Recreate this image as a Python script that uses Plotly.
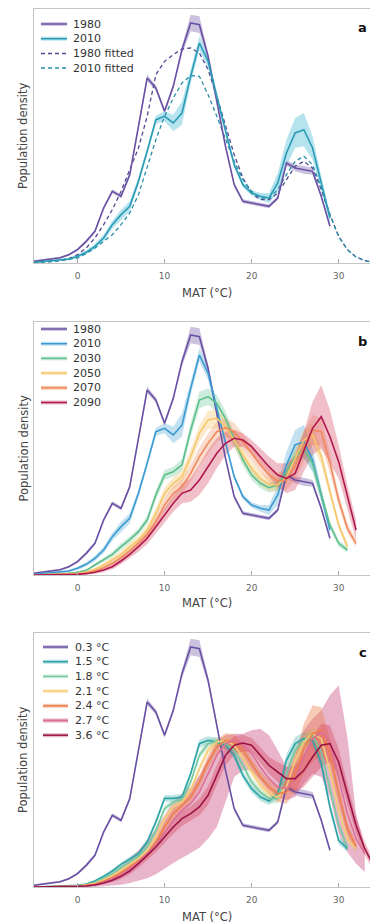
import plotly.graph_objects as go

# ---------------- data ----------------
MAT = list(range(-5, 35))          # mean annual temperature grid (°C)
XTICKS = [0, 10, 20, 30]

# panel a / shared historical curves (population density, % per °C)
pop_1980 = [0.05, 0.08, 0.12, 0.16, 0.25, 0.40, 0.65, 0.95, 1.65, 2.15, 2.00, 2.65, 4.10, 5.55, 5.25,
            4.55, 5.30, 6.40, 7.20, 7.15, 6.20, 4.85, 3.50, 2.35, 1.85, 1.80, 1.75, 1.70, 1.95, 3.00,
            2.85, 2.80, 2.75, 2.00, 1.10]
band_1980 = [0.03, 0.03, 0.03, 0.03, 0.03, 0.04, 0.05, 0.05, 0.06, 0.06, 0.06, 0.06, 0.08, 0.10, 0.08,
             0.08, 0.08, 0.12, 0.25, 0.25, 0.12, 0.08, 0.06, 0.06, 0.06, 0.06, 0.06, 0.06, 0.06, 0.08,
             0.10, 0.12, 0.10, 0.06, 0.05]
pop_2010 = [0.02, 0.04, 0.06, 0.08, 0.12, 0.20, 0.32, 0.50, 0.75, 1.15, 1.45, 1.70, 2.45, 3.35, 4.30,
            4.40, 4.20, 4.50, 5.60, 6.60, 6.05, 5.00, 3.95, 2.95, 2.35, 2.10, 2.00, 1.95, 2.40, 3.30,
            3.90, 4.00, 3.45, 2.40, 1.35]
band_2010 = [0.02, 0.02, 0.03, 0.03, 0.04, 0.05, 0.06, 0.08, 0.10, 0.12, 0.15, 0.15, 0.12, 0.10, 0.12,
             0.15, 0.25, 0.35, 0.20, 0.20, 0.20, 0.12, 0.10, 0.08, 0.08, 0.08, 0.10, 0.15, 0.30, 0.40,
             0.45, 0.50, 0.35, 0.20, 0.15]
fit_1980 = [0.02, 0.03, 0.05, 0.08, 0.13, 0.25, 0.45, 0.75, 1.15, 1.60, 2.15, 2.80, 3.45, 4.40, 5.65,
            6.05, 6.25, 6.42, 6.45, 6.30, 5.80, 5.00, 4.10, 3.25, 2.55, 2.10, 1.90, 1.90, 2.10, 2.50,
            2.90, 3.05, 2.85, 2.20, 1.45, 0.80, 0.40, 0.18, 0.07, 0.02]
fit_2010 = [0.01, 0.02, 0.04, 0.07, 0.10, 0.15, 0.28, 0.45, 0.65, 0.85, 1.15, 1.50, 2.05, 2.85, 3.70,
            4.40, 4.95, 5.40, 5.62, 5.60, 5.05, 4.40, 3.70, 3.05, 2.50, 2.15, 1.95, 1.95, 2.20, 2.65,
            3.05, 3.20, 2.95, 2.25, 1.45, 0.80, 0.40, 0.18, 0.07, 0.02]

# panel b: future years
pop_2030 = [0.00, 0.01, 0.02, 0.03, 0.05, 0.08, 0.14, 0.30, 0.45, 0.62, 0.85, 1.06, 1.30, 1.65, 2.40,
            3.00, 3.10, 3.30, 4.35, 5.25, 5.35, 5.15, 4.70, 4.05, 3.45, 3.00, 2.75, 2.62, 2.70, 3.10,
            3.55, 3.78, 3.35, 2.40, 1.50, 0.95, 0.75]
band_2030 = [0.01, 0.01, 0.01, 0.01, 0.01, 0.02, 0.03, 0.05, 0.06, 0.08, 0.10, 0.10, 0.10, 0.12, 0.15,
             0.15, 0.15, 0.18, 0.20, 0.25, 0.25, 0.25, 0.22, 0.20, 0.18, 0.15, 0.15, 0.15, 0.15, 0.18,
             0.22, 0.25, 0.22, 0.18, 0.12, 0.10, 0.08]
pop_2050 = [0.00, 0.01, 0.01, 0.02, 0.03, 0.05, 0.09, 0.17, 0.30, 0.45, 0.62, 0.85, 1.05, 1.35, 1.85,
            2.45, 2.75, 2.95, 3.55, 4.25, 4.65, 4.70, 4.45, 4.05, 3.60, 3.20, 2.90, 2.72, 2.70, 2.95,
            3.50, 4.05, 4.20, 3.55, 2.50, 1.50, 0.85]
band_2050 = [0.01, 0.01, 0.01, 0.01, 0.01, 0.02, 0.03, 0.04, 0.06, 0.08, 0.10, 0.12, 0.12, 0.14, 0.16,
             0.18, 0.18, 0.20, 0.22, 0.25, 0.28, 0.28, 0.26, 0.24, 0.22, 0.20, 0.20, 0.20, 0.20, 0.22,
             0.28, 0.32, 0.32, 0.25, 0.18, 0.12, 0.10]
pop_2070 = [0.00, 0.00, 0.01, 0.01, 0.02, 0.03, 0.06, 0.12, 0.22, 0.35, 0.52, 0.72, 0.95, 1.20, 1.60,
            2.10, 2.45, 2.65, 3.05, 3.55, 3.95, 4.30, 4.42, 4.30, 4.00, 3.65, 3.30, 3.00, 2.82, 2.85,
            3.25, 3.85, 4.35, 4.30, 3.35, 2.25, 1.40, 0.95]
band_2070 = [0.01, 0.01, 0.01, 0.01, 0.01, 0.02, 0.03, 0.04, 0.06, 0.08, 0.10, 0.12, 0.14, 0.16, 0.18,
             0.20, 0.22, 0.24, 0.26, 0.28, 0.30, 0.30, 0.28, 0.26, 0.24, 0.22, 0.22, 0.22, 0.25, 0.30,
             0.40, 0.45, 0.45, 0.40, 0.30, 0.20, 0.15, 0.12]
pop_2090 = [0.00, 0.00, 0.00, 0.01, 0.01, 0.02, 0.04, 0.08, 0.15, 0.25, 0.42, 0.62, 0.85, 1.10, 1.45,
            1.80, 2.15, 2.45, 2.55, 2.85, 3.25, 3.65, 3.95, 4.10, 4.05, 3.85, 3.55, 3.25, 3.00, 2.90,
            3.05, 3.70, 4.40, 4.75, 4.15, 3.40, 2.35, 1.35]
band_2090 = [0.01, 0.01, 0.01, 0.01, 0.01, 0.02, 0.03, 0.04, 0.06, 0.08, 0.10, 0.12, 0.15, 0.18, 0.20,
             0.22, 0.25, 0.30, 0.35, 0.45, 0.50, 0.45, 0.35, 0.25, 0.20, 0.20, 0.25, 0.30, 0.35, 0.45,
             0.50, 0.60, 0.80, 0.95, 0.80, 0.50, 0.35, 0.30]

# panel c: warming levels
pop_15 = [0.00, 0.01, 0.01, 0.02, 0.03, 0.05, 0.09, 0.18, 0.32, 0.48, 0.68, 0.85, 1.00, 1.35, 1.95,
          2.66, 2.66, 2.70, 3.40, 4.30, 4.40, 4.35, 4.25, 3.95, 3.35, 2.95, 2.70, 2.58, 2.80, 3.80,
          4.30, 4.45, 4.40, 3.70, 2.40, 1.40, 1.15]
pop_18 = [0.00, 0.00, 0.01, 0.02, 0.02, 0.04, 0.07, 0.14, 0.26, 0.40, 0.58, 0.76, 0.92, 1.20, 1.70,
          2.35, 2.55, 2.62, 3.15, 3.95, 4.30, 4.38, 4.30, 4.10, 3.65, 3.15, 2.85, 2.65, 2.65, 3.40,
          4.10, 4.40, 4.55, 4.05, 2.95, 1.85, 1.20]
pop_21 = [0.00, 0.00, 0.01, 0.01, 0.02, 0.03, 0.06, 0.11, 0.21, 0.34, 0.50, 0.68, 0.85, 1.08, 1.50,
          2.05, 2.40, 2.55, 2.90, 3.55, 4.10, 4.35, 4.40, 4.25, 3.90, 3.45, 3.05, 2.80, 2.70, 3.00,
          3.80, 4.35, 4.60, 4.45, 3.50, 2.30, 1.45, 1.15]
band_small = [0.01, 0.01, 0.01, 0.01, 0.01, 0.01, 0.02, 0.03, 0.04, 0.05, 0.06, 0.07, 0.08, 0.08, 0.10,
              0.10, 0.10, 0.10, 0.10, 0.12, 0.12, 0.12, 0.12, 0.12, 0.12, 0.12, 0.12, 0.12, 0.15, 0.18,
              0.20, 0.20, 0.20, 0.18, 0.15, 0.12, 0.10, 0.10]
pop_24 = [0.00, 0.00, 0.00, 0.01, 0.01, 0.02, 0.05, 0.09, 0.17, 0.28, 0.43, 0.60, 0.78, 0.98, 1.32,
          1.80, 2.20, 2.45, 2.70, 3.15, 3.75, 4.20, 4.40, 4.35, 4.10, 3.70, 3.30, 3.00, 2.80, 2.85,
          3.40, 4.15, 4.60, 4.70, 4.00, 2.80, 1.75, 1.20]
band_24 = [0.01, 0.01, 0.01, 0.01, 0.01, 0.01, 0.02, 0.03, 0.04, 0.05, 0.06, 0.08, 0.10, 0.12, 0.14,
           0.15, 0.16, 0.16, 0.16, 0.18, 0.20, 0.22, 0.22, 0.22, 0.20, 0.18, 0.18, 0.20, 0.25, 0.35,
           0.55, 0.75, 0.85, 0.70, 0.45, 0.30, 0.20, 0.15]
pop_27 = [0.00, 0.00, 0.00, 0.01, 0.01, 0.02, 0.04, 0.07, 0.14, 0.24, 0.37, 0.54, 0.74, 0.98, 1.25,
          1.62, 2.00, 2.30, 2.50, 2.85, 3.40, 3.95, 4.30, 4.40, 4.30, 4.00, 3.60, 3.25, 3.00, 2.95,
          3.20, 3.90, 4.45, 4.65, 4.35, 3.30, 2.20, 1.45, 1.00]
lo_27 = [0.00, 0.00, 0.00, 0.00, 0.00, 0.00, 0.00, 0.01, 0.02, 0.04, 0.07, 0.12, 0.18, 0.26, 0.38,
         0.55, 0.72, 0.88, 1.02, 1.18, 1.45, 1.80, 2.55, 3.30, 3.50, 3.50, 3.20, 2.90, 2.70, 2.60,
         2.70, 3.10, 3.40, 3.30, 2.70, 1.60, 1.05, 0.70, 0.45]
hi_27 = [0.00, 0.00, 0.00, 0.01, 0.02, 0.04, 0.08, 0.14, 0.26, 0.42, 0.62, 0.85, 1.10, 1.40, 1.75,
         2.15, 2.55, 2.80, 3.00, 3.35, 3.85, 4.35, 4.55, 4.60, 4.60, 4.70, 4.75, 4.55, 4.10, 3.60,
         4.10, 4.70, 5.05, 5.30, 5.75, 6.05, 4.50, 2.20, 1.20]
pop_36 = [0.00, 0.00, 0.00, 0.01, 0.01, 0.02, 0.03, 0.06, 0.12, 0.20, 0.32, 0.48, 0.70, 0.95, 1.20,
          1.50, 1.80, 2.05, 2.20, 2.40, 2.75, 3.35, 3.95, 4.25, 4.32, 4.25, 3.95, 3.65, 3.45, 3.25,
          3.25, 3.50, 3.90, 4.25, 4.30, 3.75, 2.80, 1.85, 1.15, 0.65]
band_36 = [0.01, 0.01, 0.01, 0.01, 0.01, 0.01, 0.02, 0.03, 0.04, 0.06, 0.08, 0.10, 0.12, 0.14, 0.16,
           0.18, 0.20, 0.22, 0.22, 0.25, 0.28, 0.30, 0.30, 0.28, 0.25, 0.22, 0.22, 0.25, 0.30, 0.35,
           0.40, 0.50, 0.60, 0.65, 0.55, 0.40, 0.30, 0.25, 0.20, 0.15]

LEG_A = ["1980", "2010", "1980 fitted", "2010 fitted"]
LEG_B = ["1980", "2010", "2030", "2050", "2070", "2090"]
LEG_C = ["0.3 °C", "1.5 °C", "1.8 °C", "2.1 °C", "2.4 °C", "2.7 °C", "3.6 °C"]

# ---------------- styling ----------------
FONT = "DejaVu Sans, Verdana, sans-serif"
W, H = 370, 924
C1980 = "#6a51a3"
C2010A, B2010A = "#2a9bb4", "rgba(120,205,225,0.55)"
C2010B = "#3a9bd2"
C2030, C2050, C2070, C2090 = "#5dbf8c", "#f5c76a", "#f08a5d", "#b0184f"
C15, C18, C21, C24, C27, C36 = "#2ba4a6", "#76c9a0", "#f4cd76", "#ee7d4b", "#dd6f97", "#9a1446"


def px(x):
    return x / W


def py(y):
    return 1 - y / H


def rgba(h, a):
    h = h.lstrip("#")
    r, g, b = int(h[0:2], 16), int(h[2:4], 16), int(h[4:6], 16)
    return f"rgba({r},{g},{b},{a})"


fig = go.Figure()


def add_band(ax, y, color, band=None, lo=None, hi=None):
    x = MAT[:len(y)]
    if band is not None:
        lo = [max(0, v - b) for v, b in zip(y, band)]
        hi = [v + b for v, b in zip(y, band)]
    fig.add_trace(go.Scatter(x=x + x[::-1], y=hi + lo[::-1], fill="toself", fillcolor=color,
                             line=dict(width=0), mode="lines", hoverinfo="skip", showlegend=False,
                             xaxis="x" + ax, yaxis="y" + ax))


def add_line(ax, y, color, width=1.6, dash=None):
    x = MAT[:len(y)]
    fig.add_trace(go.Scatter(x=x, y=y, mode="lines", line=dict(color=color, width=width, dash=dash),
                             showlegend=False, xaxis="x" + ax, yaxis="y" + ax))


# panel a
add_band("", pop_1980, rgba(C1980, 0.35), band=band_1980)
add_band("", pop_2010, B2010A, band=band_2010)
add_line("", fit_1980, "#4f4a94", 1.3, "4px,3px")
add_line("", fit_2010, "#2a8fa8", 1.3, "4px,3px")
add_line("", pop_1980, C1980)
add_line("", pop_2010, C2010A)

# panel b
add_band("2", pop_1980, rgba(C1980, 0.35), band=band_1980)
add_band("2", pop_2010, rgba(C2010B, 0.3), band=band_2010)
add_band("2", pop_2030, rgba(C2030, 0.3), band=band_2030)
add_band("2", pop_2050, rgba(C2050, 0.35), band=band_2050)
add_band("2", pop_2070, rgba(C2070, 0.3), band=band_2070)
add_band("2", pop_2090, rgba("#d8485f", 0.35), band=band_2090)
for yv, c in [(pop_1980, C1980), (pop_2010, C2010B), (pop_2030, C2030), (pop_2050, C2050),
              (pop_2070, C2070), (pop_2090, C2090)]:
    add_line("2", yv, c)

# panel c
add_band("3", pop_1980, rgba(C1980, 0.35), band=band_1980)
add_band("3", pop_27, "rgba(205,90,140,0.45)", lo=lo_27, hi=hi_27)
add_band("3", pop_15, rgba(C15, 0.3), band=band_small)
add_band("3", pop_18, rgba(C18, 0.3), band=band_small)
add_band("3", pop_21, rgba(C21, 0.35), band=band_small)
add_band("3", pop_24, rgba(C24, 0.4), band=band_24)
add_band("3", pop_36, rgba("#d63a55", 0.35), band=band_36)
for yv, c in [(pop_1980, C1980), (pop_15, C15), (pop_18, C18), (pop_21, C21), (pop_24, C24),
              (pop_27, C27), (pop_36, C36)]:
    add_line("3", yv, c)

# ---------------- axes ----------------
panels = [("", 9, 263, 7.62), ("2", 322, 575, 7.59), ("3", 633, 887, 7.62)]
layout_axes = {}
for ax, top, bot, ymax in panels:
    xa = "xaxis" + ax
    ya = "yaxis" + ax
    layout_axes[xa] = dict(domain=[px(34), 1], range=[-5, 33.6], anchor="y" + ax,
                           tickvals=XTICKS, ticks="inside", ticklen=4, tickcolor="#aaa",
                           showline=True, linecolor="#c4c4c4", linewidth=1, mirror=True,
                           showgrid=False, zeroline=False, ticklabelstandoff=4,
                           tickfont=dict(size=9, color="#666", family=FONT), fixedrange=True)
    layout_axes[ya] = dict(domain=[py(bot), py(top)], range=[0, ymax], anchor="x" + ax,
                           showticklabels=False, ticks="", showline=True, linecolor="#c4c4c4",
                           linewidth=1, showgrid=False, zeroline=False, fixedrange=True)

annotations = []
shapes = []
for (ax, top, bot, ymax), lab, ty in zip(panels, ["a", "b", "c"], [293, 603, 917]):
    annotations.append(dict(text="Population density", textangle=-90, x=px(23), y=py((top + bot) / 2),
                            xref="paper", yref="paper", xanchor="center", yanchor="middle",
                            showarrow=False, font=dict(size=11.5, color="#444", family=FONT)))
    annotations.append(dict(text="MAT (°C)", x=px(207), y=py(ty), xref="paper", yref="paper",
                            xanchor="center", yanchor="middle",
                            showarrow=False, font=dict(size=11.5, color="#444", family=FONT)))
    annotations.append(dict(text="<b>" + lab + "</b>", x=px(369), y=py(top + 19), xref="paper",
                            yref="paper", xanchor="right", yanchor="middle", showarrow=False,
                            font=dict(size=13, color="#111", family=FONT)))


def legend(entries, y0, x0, x1, xt):
    for i, (name, col, thick, dash) in enumerate(entries):
        yy = py(y0 + i * 14.7)
        if thick:
            shapes.append(dict(type="line", xref="paper", yref="paper", x0=px(x0), x1=px(x1), y0=yy, y1=yy,
                               line=dict(color=thick, width=4)))
        shapes.append(dict(type="line", xref="paper", yref="paper", x0=px(x0), x1=px(x1), y0=yy, y1=yy,
                           line=dict(color=col, width=1.5, dash=dash)))
        annotations.append(dict(text=name, x=px(xt), y=yy, xref="paper", yref="paper", xanchor="left",
                                yanchor="middle", showarrow=False,
                                font=dict(size=11, color="#333", family=FONT)))


legend([(LEG_A[0], C1980, rgba(C1980, 0.3), None),
        (LEG_A[1], C2010A, B2010A, None),
        (LEG_A[2], "#4f4a94", None, "4px,3px"),
        (LEG_A[3], "#2a8fa8", None, "4px,3px")], 24, 41, 67, 71)
legend([(LEG_B[0], C1980, rgba(C1980, 0.3), None),
        (LEG_B[1], C2010B, rgba(C2010B, 0.3), None),
        (LEG_B[2], C2030, rgba(C2030, 0.3), None),
        (LEG_B[3], C2050, rgba(C2050, 0.35), None),
        (LEG_B[4], C2070, rgba(C2070, 0.45), None),
        (LEG_B[5], C2090, rgba(C2090, 0.3), None)], 329, 41, 67, 71)
legend([(LEG_C[0], C1980, rgba(C1980, 0.3), None),
        (LEG_C[1], C15, rgba(C15, 0.35), None),
        (LEG_C[2], C18, rgba(C18, 0.3), None),
        (LEG_C[3], C21, rgba(C21, 0.35), None),
        (LEG_C[4], C24, rgba(C24, 0.4), None),
        (LEG_C[5], C27, "rgba(205,90,140,0.5)", None),
        (LEG_C[6], C36, rgba(C36, 0.3), None)], 647, 43, 68, 73)

fig.update_layout(width=W, height=H, margin=dict(l=0, r=0, t=0, b=0),
                  paper_bgcolor="white", plot_bgcolor="white", showlegend=False,
                  font=dict(family=FONT), annotations=annotations, shapes=shapes, **layout_axes)

fig.write_html("out.html", config={"displayModeBar": False},
               post_script="document.body.style.margin='0';document.body.style.overflow='hidden';")
